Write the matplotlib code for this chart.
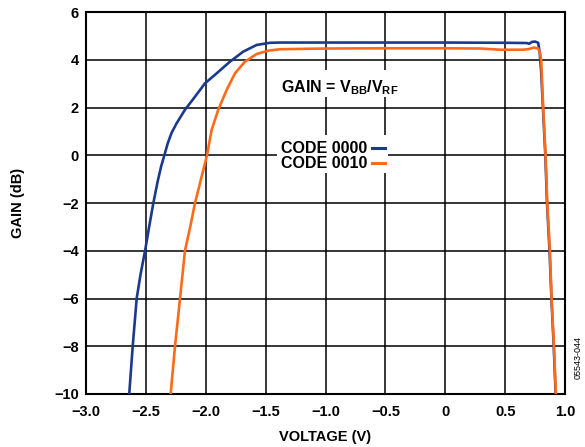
import matplotlib
matplotlib.use('Agg')
from matplotlib import pyplot as plt
from matplotlib.patches import Rectangle

plt.rcParams['font.family'] = ['Liberation Sans', 'DejaVu Sans']
plt.rcParams['font.weight'] = 'bold'
plt.rcParams['mathtext.fontset'] = 'custom'
plt.rcParams['mathtext.rm'] = 'Liberation Sans:bold'
plt.rcParams['mathtext.bf'] = 'Liberation Sans:bold'
plt.rcParams['mathtext.it'] = 'Liberation Sans:bold'

# CODE 0000
v_0000 = [-2.639, -2.61, -2.577, -2.545, -2.507, -2.473, -2.438, -2.40, -2.372,
          -2.346, -2.318, -2.285, -2.243, -2.174, -2.09, -2.007, -1.909, -1.798,
          -1.687, -1.575, -1.464, -1.38, -1.0, 0.0, 0.5, 0.68, 0.70, 0.725, 0.75,
          0.775, 0.788, 0.80, 0.815, 0.835, 0.849, 0.87, 0.886, 0.905, 0.921]
g_0000 = [-10, -8, -6, -5, -4, -3, -2, -1.05, -0.45,
          0.0, 0.5, 0.95, 1.35, 1.91, 2.46, 3.02, 3.44, 3.93,
          4.35, 4.63, 4.72, 4.73, 4.73, 4.73, 4.72, 4.71, 4.68, 4.76, 4.77,
          4.72, 4.3, 3.5, 2.0, 0.0, -2.0, -4.0, -6.0, -8.0, -10.0]

# CODE 0010
v_0010 = [-2.293, -2.257, -2.215, -2.174, -2.13, -2.09, -2.04, -1.99,
          -1.951, -1.896, -1.826, -1.756, -1.673, -1.575, -1.478, -1.38, -1.0,
          -0.5, 0.0, 0.29, 0.46, 0.65, 0.70, 0.74, 0.775, 0.79, 0.80, 0.817,
          0.837, 0.851, 0.873, 0.887, 0.907, 0.923]
g_0010 = [-10, -8, -6, -4, -3, -2, -1, 0,
          1.07, 1.91, 2.74, 3.44, 3.93, 4.25, 4.39, 4.45, 4.48,
          4.49, 4.49, 4.48, 4.43, 4.43, 4.46, 4.52, 4.48, 4.3, 4.0, 2.0,
          0.0, -2.0, -4.0, -6.0, -8.0, -10.0]

xticks = [-3.0, -2.5, -2.0, -1.5, -1.0, -0.5, 0, 0.5, 1.0]
xtick_labels = ['\u22123.0', '\u22122.5', '\u22122.0', '\u22121.5', '\u22121.0',
                '\u22120.5', '0', '0.5', '1.0']
yticks = [-10, -8, -6, -4, -2, 0, 2, 4, 6]
ytick_labels = ['\u221210', '\u22128', '\u22126', '\u22124', '\u22122',
                '0', '2', '4', '6']

blue = '#1b3a8c'
orange = '#ff6a1a'

fig = plt.figure(figsize=(5.85, 4.47), dpi=100)
ax = fig.add_axes([0.147, 0.1186, 0.819, 0.854])

ax.plot(v_0000, g_0000, color=blue, linewidth=1.9, zorder=3)
ax.plot(v_0010, g_0010, color=orange, linewidth=1.9, zorder=4)

ax.set_xlim(-3.0, 1.0)
ax.set_ylim(-10, 6)
ax.set_xticks(xticks)
ax.set_xticklabels(xtick_labels)
ax.set_yticks(yticks)
ax.set_yticklabels(ytick_labels)
ax.tick_params(length=0, labelsize=10.5)
ax.tick_params(axis='x', pad=8)
ax.tick_params(axis='y', pad=5)
ax.grid(color='black', linewidth=1.1)
for s in ax.spines.values():
    s.set_linewidth(1.5)

ax.set_xlabel('VOLTAGE (V)', fontsize=10.5, fontweight='bold', labelpad=8)
ax.set_ylabel('GAIN (dB)', fontsize=10.5, fontweight='bold', labelpad=21)

# white boxes that break the grid behind the annotations
ax.add_patch(Rectangle((-1.42, 2.45), 1.17, 1.13, facecolor='white',
                       edgecolor='none', zorder=2.5))
ax.add_patch(Rectangle((-1.406, -0.73), 0.927, 1.59, facecolor='white',
                       edgecolor='none', zorder=2.5))

ax.text(-1.37, 2.83, r'GAIN = V$_{BB}$/V$_{RF}$', fontsize=11.5,
        ha='left', va='center', zorder=5)

# legend
ax.text(-0.654, 0.30, 'CODE 0000', fontsize=11.5, ha='right', va='center', zorder=5)
ax.text(-0.654, -0.36, 'CODE 0010', fontsize=11.5, ha='right', va='center', zorder=5)
ax.plot([-0.613, -0.504], [0.325, 0.325], color=blue, linewidth=2.2, zorder=6)
ax.plot([-0.613, -0.504], [-0.32, -0.32], color=orange, linewidth=2.2, zorder=6)

fig.text(0.988, 0.2, '05543-044', rotation=90, fontsize=6.5,
         fontweight='normal', ha='center', va='center')

fig.savefig('out.png', dpi=100)
